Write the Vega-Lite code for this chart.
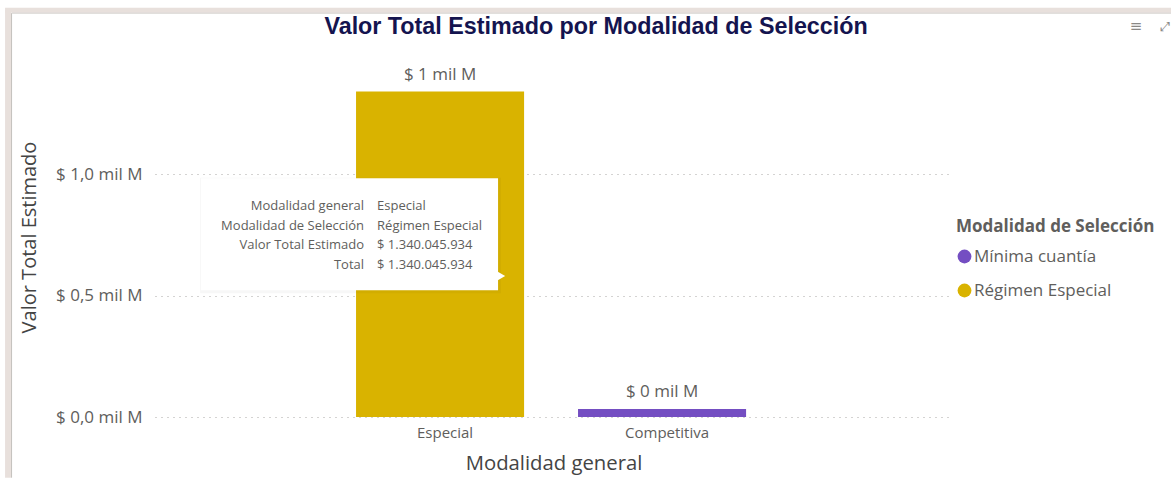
{
"$schema":"https://vega.github.io/schema/vega-lite/v6.json",
"width":797,"height":357,
"autosize":{"type":"none"},
"padding":{"left":155,"top":60,"right":219,"bottom":61},
"background":"white",
"config":{"font":"Open Sans","view":{"stroke":null}},
"data":{"values":[
{"general":"Especial","modalidad":"Régimen Especial","valor":1340045934,"etiqueta":"$ 1 mil M"},
{"general":"Competitiva","modalidad":"Mínima cuantía","valor":33000000,"etiqueta":"$ 0 mil M"}
]},
"layer":[
{"mark":{"type":"bar","clip":false},
"encoding":{
"x":{"field":"general","type":"nominal","sort":["Especial","Competitiva"],
"scale":{"domain":["Especial","Competitiva"],"paddingInner":0.243,"paddingOuter":0.9166,"align":0.494},
"axis":{"title":"Modalidad general","titleFont":"Open Sans","titleFontSize":20.3,"titleFontWeight":"normal","titleColor":"#444444","titlePadding":13,"labelAngle":0,"labelFontSize":15,"labelColor":"#605E5C","labelPadding":8,"labelOffset":5,"ticks":false,"domain":false,"grid":false}},
"y":{"field":"valor","type":"quantitative","scale":{"domain":[0,1470000000],"nice":false},
"axis":{"title":"Valor Total Estimado","titleFont":"Open Sans","titleFontSize":20,"titleFontWeight":"normal","titleColor":"#444444","titleX":-116,"titleY":177,"values":[0,500000000,1000000000],
"labelExpr":"'$ ' + replace(format(datum.value/1000000000,'.1f'),'.',',') + ' mil M'","labelFontSize":17,"labelColor":"#605E5C","labelPadding":13,"ticks":false,"domain":false,"grid":true,"gridDash":[1,5],"gridColor":"#A8A6A4","gridWidth":1}},
"color":{"field":"modalidad","type":"nominal","scale":{"domain":["Mínima cuantía","Régimen Especial"],"range":["#744EC2","#D9B300"]},
"legend":{"title":"Modalidad de Selección","orient":"none","legendX":801,"legendY":159,"titleFont":"Open Sans","titleFontSize":17,"titleFontWeight":"bold","titleColor":"#605E5C","titleLimit":230,"labelFontSize":17,"labelColor":"#605E5C","symbolType":"circle","symbolSize":190,"symbolStrokeWidth":0,"rowPadding":16,"labelOffset":1,"titlePadding":12,"symbolOpacity":1}}
}},
{"mark":{"type":"text","baseline":"bottom","dy":-8,"fontSize":17,"color":"#605E5C"},
"encoding":{"x":{"field":"general","type":"nominal"},"y":{"field":"valor","type":"quantitative"},"text":{"field":"etiqueta"}}},
{"data":{"values":[{"titulo":"Valor Total Estimado por Modalidad de Selección"}]},
"mark":{"type":"text","font":"Liberation Sans","fontSize":23.3,"fontWeight":"bold","color":"#14144F","xOffset":156,"baseline":"middle","clip":false},
"encoding":{"x":{"datum":"Especial","type":"nominal"},"y":{"datum":1605000000,"type":"quantitative"},"text":{"field":"titulo"}}},
{"data":{"values":[{"elemento":"sombra"}]},
"mark":{"type":"bar","width":301,"xOffset":-89.5,"color":"#000000","opacity":0.03},
"encoding":{"x":{"datum":"Especial","type":"nominal"},"y":{"datum":985000000,"type":"quantitative"},"y2":{"datum":510000000}}},
{"data":{"values":[{"elemento":"tooltip"}]},
"mark":{"type":"bar","width":297,"xOffset":-90.5,"color":"#FFFFFF"},
"encoding":{"x":{"datum":"Especial","type":"nominal"},"y":{"datum":983000000,"type":"quantitative"},"y2":{"datum":522000000}}},
{"data":{"values":[{"elemento":"flecha"}]},
"mark":{"type":"point","shape":"triangle-right","filled":true,"size":90,"xOffset":61,"color":"#FFFFFF","opacity":1},
"encoding":{"x":{"datum":"Especial","type":"nominal"},"y":{"datum":581000000,"type":"quantitative"}}},
{"data":{"values":[{"campos":["Modalidad general","Modalidad de Selección","Valor Total Estimado","Total"]}]},
"mark":{"type":"text","align":"right","baseline":"alphabetic","dx":-76,"fontSize":13,"lineHeight":19.7,"color":"#605E5C"},
"encoding":{"x":{"datum":"Especial","type":"nominal"},"y":{"datum":852000000,"type":"quantitative"},"text":{"field":"campos"}}},
{"data":{"values":[{"valores":["Especial","Régimen Especial","$ 1.340.045.934","$ 1.340.045.934"]}]},
"mark":{"type":"text","align":"left","baseline":"alphabetic","dx":-63,"fontSize":13,"lineHeight":19.7,"color":"#605E5C"},
"encoding":{"x":{"datum":"Especial","type":"nominal"},"y":{"datum":852000000,"type":"quantitative"},"text":{"field":"valores"}}},
{"data":{"values":[{"elemento":"marco izquierdo"}]},
"mark":{"type":"rule","xOffset":-432,"color":"#E8E0DC","strokeWidth":6,"clip":false},
"encoding":{"x":{"datum":"Especial","type":"nominal"},"y":{"datum":1675000000,"type":"quantitative"},"y2":{"datum":-250000000}}},
{"data":{"values":[{"elemento":"línea izquierda"}]},
"mark":{"type":"rule","xOffset":-428.5,"color":"#C4C0BC","strokeWidth":1,"clip":false},
"encoding":{"x":{"datum":"Especial","type":"nominal"},"y":{"datum":1663000000,"type":"quantitative"},"y2":{"datum":-250000000}}},
{"data":{"values":[{"elemento":"marco superior"}]},
"mark":{"type":"rule","xOffset":-435,"x2Offset":510,"color":"#E8E0DC","strokeWidth":5,"clip":false},
"encoding":{"x":{"datum":"Especial","type":"nominal"},"x2":{"datum":"Competitiva"},"y":{"datum":1675000000,"type":"quantitative"}}},
{"data":{"values":[{"elemento":"línea superior"}]},
"mark":{"type":"rule","xOffset":-428,"x2Offset":510,"color":"#D0CCC8","strokeWidth":1,"clip":false},
"encoding":{"x":{"datum":"Especial","type":"nominal"},"x2":{"datum":"Competitiva"},"y":{"datum":1663000000,"type":"quantitative"}}},
{"data":{"values":[{"icono":"≡"}]},
"mark":{"type":"text","fontSize":15,"font":"DejaVu Sans","xOffset":474,"color":"#8A8886"},
"encoding":{"x":{"datum":"Competitiva","type":"nominal"},"y":{"datum":1610000000,"type":"quantitative"},"text":{"field":"icono"}}},
{"data":{"values":[{"icono":"⤢"}]},
"mark":{"type":"text","fontSize":13,"font":"DejaVu Sans","xOffset":503,"color":"#8A8886"},
"encoding":{"x":{"datum":"Competitiva","type":"nominal"},"y":{"datum":1605000000,"type":"quantitative"},"text":{"field":"icono"}}}
]
}
